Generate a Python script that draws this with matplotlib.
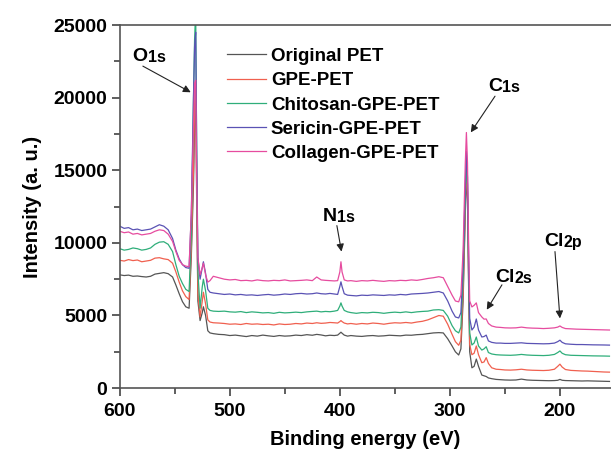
import numpy as np
import matplotlib.pyplot as plt

plt.rcParams['font.family'] = ['Liberation Sans', 'DejaVu Sans']
plt.rcParams['font.weight'] = 'bold'

# binding energy grid (eV)
energy = [600, 596, 592, 588, 584, 580, 576, 572, 568, 564, 560, 556, 552, 549, 546,
          543, 540, 537, 535, 533, 532, 531, 530, 529, 527, 525, 524, 522, 520, 518, 515,
          510, 505, 500, 495, 490, 485, 480, 475, 470, 465, 460, 455, 450, 445, 440, 435,
          430, 425, 421, 417, 413, 409, 405,
          402, 400, 399, 398, 396, 393, 390,
          385, 380, 375, 370, 365, 360, 355, 350, 345, 340, 335, 330, 325, 320, 315, 310,
          306, 302, 298, 295, 292, 290, 288, 286, 285, 284, 283, 282, 280, 278, 276, 274,
          271, 269, 267, 265, 262, 258, 254, 250,
          245, 240, 235, 230, 225, 220, 215, 210, 205, 202, 200, 198, 195, 190, 185, 180,
          175, 170, 165, 160, 155]

original = [7800, 7750, 7780, 7700, 7720, 7680, 7650, 7700, 7850, 7900, 7950, 7880, 7650, 7100, 6500,
            5950, 5600, 5500, 9000, 14000, 18000, 20000, 12000, 6000, 4650, 5200, 5600, 5000, 3950, 3800, 3750,
            3700, 3680, 3620, 3650, 3600, 3550, 3620, 3580, 3650, 3600, 3560, 3620, 3580, 3600, 3650, 3620,
            3680, 3640, 3700, 3660, 3600, 3640, 3620,
            3650, 3780, 3850, 3780, 3650, 3580, 3620,
            3580, 3560, 3600, 3620, 3580, 3600, 3640, 3620, 3600, 3650, 3640, 3680, 3700, 3750, 3800, 3820,
            3800, 3400, 2900, 2500, 2280, 2700, 6000, 12000, 14500, 13000, 7000, 2500, 1400, 1500, 2000, 1500,
            900, 850, 800, 700, 650, 600, 580, 560,
            550, 560, 620, 560, 540, 530, 520, 510, 520, 540, 600, 540, 520, 510, 500, 490,
            500, 490, 480, 470, 460]

gpe = [8800, 8750, 8850, 8780, 8820, 8700, 8750, 8800, 8950, 8980, 8900, 8850, 8600, 8000, 7300,
       6700, 6300, 6100, 9500, 15000, 19500, 21000, 13000, 6500, 4900, 6000, 6600, 5800, 4700, 4550, 4500,
       4480, 4450, 4400, 4420, 4380, 4450, 4400, 4420, 4380, 4400, 4350, 4420, 4380, 4400, 4450, 4420,
       4480, 4450, 4500, 4460, 4480, 4520, 4500,
       4480, 4580, 4650, 4580, 4480, 4420, 4450,
       4400, 4450, 4420, 4480, 4450, 4400, 4460, 4500, 4480, 4520, 4480, 4550, 4600, 4700, 4850, 5000,
       4950, 4400, 3700, 3200, 2950, 3300, 6500, 12500, 15000, 13500, 7500, 3000, 2300, 2400, 2900, 2300,
       1750, 1800, 2100, 1700, 1400, 1300, 1280, 1250,
       1240, 1260, 1300, 1250, 1230, 1220, 1210, 1230, 1300, 1500, 1650, 1450, 1280, 1220, 1200, 1180,
       1170, 1150, 1130, 1110, 1100]

chitosan = [9600, 9500, 9550, 9650, 9600, 9500, 9550, 9650, 9900, 10050, 10080, 9900, 9400, 8500, 7700,
            7200, 6800, 6650, 10500, 20000, 24000, 26000, 15000, 8000, 5500, 7000, 7500, 6700, 5500, 5350, 5300,
            5280, 5300, 5250, 5230, 5270, 5200, 5250, 5220, 5180, 5200, 5150, 5220, 5180, 5200, 5230, 5200,
            5250, 5280, 5300, 5250, 5280, 5260, 5300,
            5350, 5650, 5870, 5650, 5350, 5250, 5200,
            5150, 5200, 5180, 5220, 5200, 5150, 5200, 5230, 5200, 5250, 5200, 5250, 5280, 5300, 5380, 5400,
            5350, 4950, 4300, 3950, 3800, 4200, 7500, 13000, 15500, 14000, 8000, 3800, 2970, 3100, 3520, 2900,
            2620, 2700, 2850, 2450, 2350, 2300, 2280, 2270,
            2260, 2280, 2320, 2280, 2260, 2250, 2240, 2260, 2320, 2450, 2560, 2400, 2300, 2260, 2250, 2240,
            2230, 2220, 2215, 2210, 2200]

sericin = [11150, 11000, 11050, 10900, 10950, 10850, 10900, 10950, 11100, 11250, 11150, 10900, 10300, 9500, 8900,
           8500, 8300, 8250, 12000, 20000, 23500, 24500, 16000, 9000, 7500, 8300, 8700, 7900, 6800, 6600, 6550,
           6500, 6450, 6480, 6420, 6450, 6400, 6420, 6380, 6420, 6450, 6400, 6430, 6480, 6450, 6500, 6520,
           6480, 6500, 6550, 6500, 6480, 6520, 6480,
           6450, 7000, 7320, 7000, 6500, 6400, 6380,
           6350, 6400, 6380, 6420, 6400, 6380, 6420, 6400, 6450, 6420, 6480, 6500, 6520, 6550, 6600, 6650,
           6550, 6000, 5300, 4900, 4830, 5200, 8500, 14000, 16300, 14500, 9000, 4800, 4000, 4200, 4760, 4000,
           3520, 3550, 3650, 3250, 3150, 3100, 3100, 3080,
           3080, 3100, 3120, 3080, 3070, 3060, 3050, 3060, 3100, 3200, 3300, 3150, 3050, 3020, 3000, 3000,
           2990, 2980, 2975, 2970, 2960]

collagen = [10800, 10700, 10750, 10600, 10650, 10550, 10600, 10650, 10800, 10900, 10850, 10600, 10100, 9400, 8800,
            8500, 8400, 8360, 12000, 18000, 21000, 21200, 14000, 9000, 7800, 8300, 8600, 7800, 7300, 7400, 7700,
            7600, 7500, 7450, 7480, 7400, 7420, 7380, 7450, 7400, 7380, 7420, 7400, 7450, 7380, 7400, 7420,
            7450, 7400, 7650, 7450, 7420, 7400, 7380,
            7400, 8000, 8700, 8000, 7450, 7380, 7400,
            7350, 7400, 7380, 7420, 7380, 7350, 7400, 7380, 7420, 7400, 7450, 7420, 7480, 7550, 7600, 7670,
            7600, 7000, 6400, 6000, 5940, 6400, 9500, 15500, 17600, 15500, 10000, 6000, 5590, 5700, 5870, 5200,
            4900, 4750, 4760, 4450, 4280, 4200, 4180, 4150,
            4140, 4150, 4200, 4150, 4130, 4120, 4100, 4120, 4150, 4200, 4280, 4180, 4100, 4080, 4060, 4050,
            4040, 4030, 4020, 4010, 4000]

labels = ['Original PET', 'GPE-PET', 'Chitosan-GPE-PET', 'Sericin-GPE-PET', 'Collagen-GPE-PET']
colors = ['#555555', '#f0604f', '#2fae7a', '#5a52b4', '#e64c9f']

fig = plt.figure(figsize=(6.11, 4.55), dpi=100)
ax = fig.add_axes([0.196, 0.147, 0.804, 0.798])

for series, lab, col in zip([original, gpe, chitosan, sericin, collagen], labels, colors):
    ax.plot(energy, series, color=col, lw=0.9, label=lab)

ax.set_xlim(600, 153.6)
ax.set_ylim(0, 25000)
ax.set_xticks([600, 500, 400, 300, 200])
ax.set_xticks([550, 450, 350, 250], minor=True)
ax.set_yticks([0, 5000, 10000, 15000, 20000, 25000])
ax.set_yticks([2500, 7500, 12500, 17500, 22500], minor=True)
ax.tick_params(which='major', direction='out', length=6, width=1.1, labelsize=14, pad=3, color='#333333')
ax.tick_params(which='minor', direction='out', length=4, width=1.1, color='#333333')
ax.tick_params(axis='x', which='major', pad=5)
for side in ['left', 'bottom', 'top']:
    ax.spines[side].set_color('#555555')
    ax.spines[side].set_linewidth(1.2)
ax.spines['right'].set_visible(False)

ax.set_xlabel('Binding energy (eV)', fontsize=14.5, fontweight='bold', labelpad=7)
ax.set_ylabel('Intensity (a. u.)', fontsize=14.5, fontweight='bold', labelpad=8)

ax.legend(loc='upper left', bbox_to_anchor=(0.218, 0.937), frameon=False, fontsize=13.5,
          handlelength=2.1, handletextpad=0.25, labelspacing=0.38, borderpad=0, borderaxespad=0)

# peak labels: main letter(s) + smaller suffix, with arrows
peaks = [('O', '1s', (588.2, 22510), (579, 22170), (535.5, 20370)),
         ('C', '1s', (265.5, 20440), (259, 20100), (281, 17610)),
         ('N', '1s', (415.5, 11530), (402.7, 11190), (398.5, 9400)),
         ('Cl', '2s', (259.0, 7320), (252.7, 7110), (266.5, 5400)),
         ('Cl', '2p', (214.2, 9810), (204.5, 9400), (200, 4800))]
for main, sub, tpos, a0, a1 in peaks:
    t = ax.text(tpos[0], tpos[1], main, fontsize=14, fontweight='bold', ha='left', va='baseline')
    ax.annotate(sub, xy=(1, 0), xycoords=t, fontsize=11.5, fontweight='bold', ha='left', va='bottom')
    ax.annotate('', xy=a1, xytext=a0,
                arrowprops=dict(arrowstyle='-|>', color='#222222', lw=0.8, mutation_scale=11,
                                shrinkA=0, shrinkB=0))

fig.savefig('out.png', dpi=100)
